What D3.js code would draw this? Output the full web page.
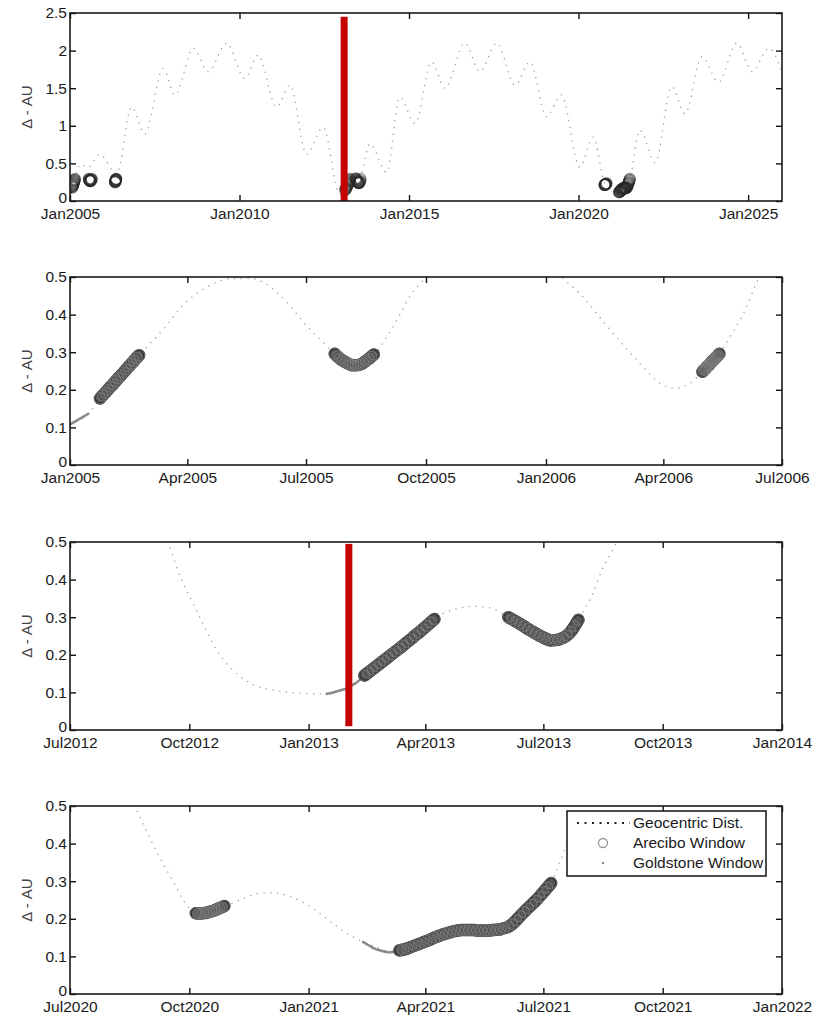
<!DOCTYPE html>
<html>
<head>
<meta charset="utf-8">
<script src="https://cdn.jsdelivr.net/npm/d3@7"></script>
<style>
	body { margin: 0; background: #fff; }
	svg text { font-family: "Liberation Sans", Arial, sans-serif; }
</style>
</head>
<body>
<svg id="chart" width="825" height="1017"></svg>
<script>
// ---- data ----
// geocentric distance, coarse (top panel)
const geoLongTerm = [
	["2005-01-01", 0.11], ["2005-02-24", 0.30], ["2005-04-20", 0.49], ["2005-07-16", 0.45],
	["2005-11-18", 0.62], ["2006-05-18", 0.36], ["2006-10-27", 1.25], ["2007-03-18", 0.89],
	["2007-10-01", 1.76], ["2008-02-06", 1.41], ["2008-08-22", 2.03], ["2009-01-30", 1.72],
	["2009-08-15", 2.10], ["2010-02-28", 1.63], ["2010-07-20", 1.94], ["2011-02-05", 1.25],
	["2011-06-28", 1.54], ["2011-12-25", 0.62], ["2012-06-20", 0.98], ["2012-12-16", 0.09],
	["2013-03-15", 0.22], ["2013-07-07", 0.26], ["2013-11-07", 0.76], ["2014-05-05", 0.38],
	["2014-09-24", 1.38], ["2015-03-08", 1.03], ["2015-09-02", 1.85], ["2016-01-23", 1.50],
	["2016-08-25", 2.10], ["2017-02-03", 1.72], ["2017-08-03", 2.10], ["2018-02-17", 1.54],
	["2018-07-27", 1.85], ["2019-01-23", 1.12], ["2019-07-01", 1.41], ["2020-01-15", 0.45],
	["2020-06-07", 0.85], ["2020-10-15", 0.22], ["2021-03-15", 0.11], ["2021-07-07", 0.30],
	["2021-10-23", 0.94], ["2022-04-05", 0.51], ["2022-10-01", 1.52], ["2023-02-21", 1.16],
	["2023-08-22", 1.92], ["2024-02-17", 1.58], ["2024-09-01", 2.10], ["2025-02-14", 1.72],
	["2025-08-11", 2.03], ["2025-12-31", 1.72]
];

// geocentric distance, detail
const geo2005 = [
	["2005-01-01", 0.108], ["2005-01-15", 0.136], ["2005-01-24", 0.177], ["2005-02-08", 0.238],
	["2005-02-24", 0.296], ["2005-03-15", 0.367], ["2005-03-30", 0.430], ["2005-04-14", 0.469],
	["2005-05-05", 0.496], ["2005-05-20", 0.496], ["2005-05-31", 0.482], ["2005-06-15", 0.438],
	["2005-06-30", 0.376], ["2005-07-15", 0.323], ["2005-07-23", 0.296], ["2005-08-07", 0.265],
	["2005-08-23", 0.296], ["2005-09-04", 0.358], ["2005-09-11", 0.400], ["2005-09-19", 0.450],
	["2005-09-30", 0.496], ["2005-10-20", 0.580], ["2005-11-25", 0.620], ["2005-12-28", 0.560],
	["2006-01-14", 0.496], ["2006-01-27", 0.456], ["2006-02-11", 0.394], ["2006-02-26", 0.332],
	["2006-03-14", 0.270], ["2006-04-01", 0.212], ["2006-04-11", 0.204], ["2006-04-21", 0.217],
	["2006-05-01", 0.248], ["2006-05-14", 0.296], ["2006-05-22", 0.340], ["2006-06-01", 0.400],
	["2006-06-13", 0.496], ["2006-07-01", 0.620]
];
const geo2013 = [
	["2012-08-20", 0.660], ["2012-09-01", 0.580], ["2012-09-15", 0.496], ["2012-09-23", 0.416],
	["2012-10-04", 0.336], ["2012-10-14", 0.265], ["2012-10-24", 0.202], ["2012-11-04", 0.158],
	["2012-11-19", 0.121], ["2012-12-07", 0.105], ["2012-12-25", 0.098], ["2013-01-15", 0.096],
	["2013-02-01", 0.114], ["2013-02-13", 0.145], ["2013-03-13", 0.218], ["2013-04-09", 0.300],
	["2013-04-25", 0.322], ["2013-05-08", 0.329], ["2013-05-21", 0.325], ["2013-06-04", 0.300],
	["2013-06-21", 0.265], ["2013-07-07", 0.238], ["2013-07-19", 0.251], ["2013-07-29", 0.300],
	["2013-08-08", 0.362], ["2013-08-15", 0.424], ["2013-08-26", 0.496], ["2013-09-10", 0.620]
];
const geo2021 = [
	["2020-08-05", 0.620], ["2020-08-20", 0.500], ["2020-08-29", 0.434], ["2020-09-08", 0.364],
	["2020-09-18", 0.303], ["2020-09-28", 0.241], ["2020-10-06", 0.215], ["2020-10-17", 0.218],
	["2020-10-29", 0.234], ["2020-11-09", 0.250], ["2020-11-24", 0.268], ["2020-12-05", 0.269],
	["2020-12-18", 0.259], ["2020-12-31", 0.237], ["2021-01-13", 0.206], ["2021-01-26", 0.171],
	["2021-02-08", 0.145], ["2021-02-20", 0.128], ["2021-03-05", 0.113], ["2021-03-12", 0.116],
	["2021-04-14", 0.158], ["2021-04-27", 0.169], ["2021-05-22", 0.169], ["2021-06-05", 0.180],
	["2021-06-18", 0.224], ["2021-06-28", 0.259], ["2021-07-07", 0.295], ["2021-07-13", 0.346],
	["2021-07-17", 0.380], ["2021-07-25", 0.460], ["2021-07-31", 0.530]
];

// Arecibo windows: [first day, days between samples, distances]
const arecibo2005a = ["2005-01-24", 2, [0.177, 0.185, 0.192, 0.200, 0.208, 0.215, 0.223, 0.231,
	0.238, 0.246, 0.254, 0.262, 0.269, 0.277, 0.285, 0.292]];
const arecibo2005b = ["2005-07-23", 2, [0.296, 0.289, 0.283, 0.278, 0.274, 0.270, 0.267, 0.265,
	0.265, 0.266, 0.268, 0.272, 0.277, 0.282, 0.288, 0.294]];
const arecibo2006 = ["2006-05-01", 1, [0.248, 0.252, 0.255, 0.259, 0.263, 0.266, 0.270, 0.274,
	0.278, 0.281, 0.285, 0.288, 0.292, 0.296]];
const arecibo2013a = ["2013-02-13", 3, [0.145, 0.153, 0.161, 0.169, 0.177, 0.185, 0.193, 0.201,
	0.209, 0.217, 0.225, 0.234, 0.242, 0.251, 0.259, 0.268, 0.277, 0.286, 0.295]];
const arecibo2013b = ["2013-06-04", 3, [0.300, 0.294, 0.288, 0.282, 0.276, 0.269, 0.263, 0.257,
	0.251, 0.246, 0.241, 0.238, 0.239, 0.241, 0.245, 0.251, 0.261, 0.276, 0.293]];
const arecibo2020 = ["2020-10-06", 2, [0.215, 0.214, 0.214, 0.215, 0.216, 0.218, 0.220, 0.222,
	0.225, 0.228, 0.231, 0.234]];
const arecibo2021 = ["2021-03-12", 3, [0.116, 0.118, 0.121, 0.125, 0.129, 0.133, 0.137, 0.141,
	0.145, 0.150, 0.154, 0.158, 0.161, 0.164, 0.167, 0.169, 0.170, 0.170, 0.170, 0.170,
	0.169, 0.169, 0.169, 0.169, 0.170, 0.171, 0.172, 0.175, 0.179, 0.186, 0.196, 0.207,
	0.218, 0.228, 0.238, 0.248, 0.259, 0.271, 0.283, 0.295]];

// Goldstone windows
const goldstone2005 = ["2005-01-01", 1, [0.108, 0.110, 0.112, 0.114, 0.116, 0.118, 0.120, 0.122,
	0.124, 0.126, 0.128, 0.130, 0.132, 0.134, 0.136]];
const goldstone2013 = ["2013-01-15", 1, [0.096, 0.097, 0.097, 0.098, 0.099, 0.100, 0.101, 0.102,
	0.103, 0.104, 0.105, 0.106, 0.107, 0.108, 0.109, 0.110, 0.112, 0.114, 0.116, 0.118,
	0.120, 0.122, 0.124, 0.126, 0.129, 0.132, 0.135, 0.138, 0.141]];
const goldstone2021 = ["2021-02-12", 1, [0.138, 0.136, 0.134, 0.132, 0.130, 0.128, 0.126, 0.124,
	0.122, 0.121, 0.119, 0.118, 0.117, 0.116, 0.115, 0.114, 0.113, 0.112, 0.112, 0.111,
	0.111, 0.111, 0.111, 0.112, 0.112, 0.113, 0.113, 0.114, 0.114]];

// red marker (date, from, to)
const markerDate = "2013-02-01";
const markerTop = [0, 2.45];
const markerZoom = [0.01, 0.495];

// ticks
const yearTicks = ["2005-01-01", "2010-01-01", "2015-01-01", "2020-01-01", "2025-01-01"];
const ticks2005 = ["2005-01-01", "2005-04-01", "2005-07-01", "2005-10-01", "2006-01-01", "2006-04-01", "2006-07-01"];
const ticks2013 = ["2012-07-01", "2012-10-01", "2013-01-01", "2013-04-01", "2013-07-01", "2013-10-01", "2014-01-01"];
const ticks2021 = ["2020-07-01", "2020-10-01", "2021-01-01", "2021-04-01", "2021-07-01", "2021-10-01", "2022-01-01"];
const yTicksTop = [0, 0.5, 1, 1.5, 2, 2.5];
const yTicksZoom = [0, 0.1, 0.2, 0.3, 0.4, 0.5];
const legendLabels = ["Geocentric Dist.", "Arecibo Window", "Goldstone Window"];

// ---- drawing ----
const parse = d3.utcParse("%Y-%m-%d");
const fmt = d3.utcFormat("%b%Y");
const svg = d3.select("#chart");

const left = 70, right = 782, panelH = 188;
const allArecibo = [arecibo2005a, arecibo2005b, arecibo2006, arecibo2013a, arecibo2013b, arecibo2020, arecibo2021];
const allGoldstone = [goldstone2005, goldstone2013, goldstone2021];

function expand(win) {
	const start = parse(win[0]);
	return win[2].map((v, i) => ({ date: d3.utcDay.offset(start, i * win[1]), v: v }));
}
const areciboWindows = allArecibo.map(expand);
const areciboPts = areciboWindows.flat();
const goldstonePts = allGoldstone.flatMap(expand);

const panels = [
	{ top: 13, domain: ["2005-01-01", "2026-01-01"], yMax: 2.5, yTicks: yTicksTop, xTicks: yearTicks, geo: geoLongTerm, bar: markerTop },
	{ top: 277, domain: ["2005-01-01", "2006-07-01"], yMax: 0.5, yTicks: yTicksZoom, xTicks: ticks2005, geo: geo2005, tube: true },
	{ top: 542, domain: ["2012-07-01", "2014-01-01"], yMax: 0.5, yTicks: yTicksZoom, xTicks: ticks2013, geo: geo2013, bar: markerZoom, tube: true },
	{ top: 806, domain: ["2020-07-01", "2022-01-01"], yMax: 0.5, yTicks: yTicksZoom, xTicks: ticks2021, geo: geo2021, legend: true, tube: true }
];

panels.forEach((p, idx) => {
	const bottom = p.top + panelH;
	const x = d3.scaleUtc().domain(p.domain.map(parse)).range([left, right]);
	const y = d3.scaleLinear().domain([0, p.yMax]).range([bottom, p.top]);

	const clipId = "clip" + idx;
	svg.append("clipPath").attr("id", clipId)
		.append("rect")
		.attr("x", left).attr("y", p.top)
		.attr("width", right - left).attr("height", panelH);

	const plot = svg.append("g").attr("clip-path", `url(#${clipId})`);

	// geocentric distance - dotted
	const line = d3.line()
		.x(d => x(parse(d[0])))
		.y(d => y(d[1]))
		.curve(d3.curveMonotoneX);
	plot.append("path")
		.datum(p.geo)
		.attr("d", line)
		.attr("fill", "none")
		.attr("stroke", "#a0a0a0")
		.attr("stroke-width", 1.3)
		.attr("stroke-dasharray", "1.3 5.5");

	// goldstone - small dots
	plot.selectAll(null)
		.data(goldstonePts)
		.enter()
		.append("circle")
		.attr("cx", d => x(d.date))
		.attr("cy", d => y(d.v))
		.attr("r", 1.3)
		.attr("fill", "#8a8a8a");

	// arecibo - in the zoomed panels the circles pile up into a tube
	if (p.tube) {
		const winLine = d3.line()
			.x(d => x(d.date))
			.y(d => y(d.v))
			.curve(d3.curveMonotoneX);
		plot.selectAll(null)
			.data(areciboWindows)
			.enter()
			.append("path")
			.attr("d", winLine)
			.attr("fill", "none")
			.attr("stroke", "#262626")
			.attr("stroke-width", 12.5)
			.attr("stroke-linecap", "round");
		plot.selectAll(null)
			.data(areciboWindows)
			.enter()
			.append("path")
			.attr("d", winLine)
			.attr("fill", "none")
			.attr("stroke", "#555")
			.attr("stroke-width", 8)
			.attr("stroke-linecap", "round");
	}
	plot.selectAll(null)
		.data(areciboPts)
		.enter()
		.append("circle")
		.attr("cx", d => x(d.date))
		.attr("cy", d => y(d.v))
		.attr("r", 5.5)
		.attr("fill", "none")
		.attr("stroke", p.tube ? "#888" : "#2a2a2a")
		.attr("stroke-opacity", p.tube ? 0.6 : 0.5)
		.attr("stroke-width", 1.2);

	// red marker
	if (p.bar) {
		const xm = x(parse(markerDate));
		svg.append("rect")
			.attr("x", xm - 3.5)
			.attr("width", 7)
			.attr("y", y(p.bar[1]))
			.attr("height", y(p.bar[0]) - y(p.bar[1]))
			.attr("fill", "#c40000");
	}

	// axes, MATLAB style: ticks inside on all four sides
	const xt = p.xTicks.map(parse);
	const axB = svg.append("g")
		.attr("transform", `translate(0,${bottom})`)
		.call(d3.axisBottom(x).tickValues(xt).tickFormat(fmt).tickSizeInner(-6).tickSizeOuter(0).tickPadding(7));
	svg.append("g")
		.attr("transform", `translate(0,${p.top})`)
		.call(d3.axisTop(x).tickValues(xt).tickFormat("").tickSizeInner(-6).tickSizeOuter(0));
	const axL = svg.append("g")
		.attr("transform", `translate(${left},0)`)
		.call(d3.axisLeft(y).tickValues(p.yTicks).tickFormat(d3.format("~g")).tickSizeInner(-6).tickSizeOuter(0).tickPadding(3));
	svg.append("g")
		.attr("transform", `translate(${right},0)`)
		.call(d3.axisRight(y).tickValues(p.yTicks).tickFormat("").tickSizeInner(-6).tickSizeOuter(0));

	svg.selectAll(".domain").remove();
	svg.selectAll(".tick line").attr("stroke", "#111").attr("stroke-width", 1.4);
	[axB, axL].forEach(a => a.selectAll("text")
		.attr("fill", "#1a1a1a")
		.style("font-size", "15.5px"));
	// lift the "0" a little so it sits above the first date label
	axL.selectAll(".tick").filter(d => d === 0).select("text").attr("dy", "0.1em");

	// box
	svg.append("rect")
		.attr("x", left).attr("y", p.top)
		.attr("width", right - left).attr("height", panelH)
		.attr("fill", "none")
		.attr("stroke", "#1a1a1a")
		.attr("stroke-width", 1.6);

	// y label
	svg.append("text")
		.attr("transform", `translate(32,${(p.top + bottom) / 2}) rotate(-90)`)
		.attr("text-anchor", "middle")
		.attr("fill", "#444")
		.style("font-size", "15px")
		.text("\u0394 - AU");

	if (p.legend) {
		const lg = svg.append("g").attr("transform", "translate(567,811)");
		lg.append("rect")
			.attr("width", 199).attr("height", 65)
			.attr("fill", "#fff")
			.attr("stroke", "#111")
			.attr("stroke-width", 1.5);
		lg.append("line")
			.attr("x1", 10).attr("x2", 63)
			.attr("y1", 12).attr("y2", 12)
			.attr("stroke", "#222")
			.attr("stroke-width", 2)
			.attr("stroke-dasharray", "2 5.5");
		lg.append("circle")
			.attr("cx", 36).attr("cy", 32).attr("r", 4.5)
			.attr("fill", "none")
			.attr("stroke", "#999")
			.attr("stroke-width", 1.3);
		lg.append("circle")
			.attr("cx", 36).attr("cy", 52).attr("r", 1.2)
			.attr("fill", "#888");
		lg.selectAll(null)
			.data(legendLabels)
			.enter()
			.append("text")
			.attr("x", 66)
			.attr("y", (d, i) => 12 + i * 20)
			.attr("dy", "0.35em")
			.attr("fill", "#1a1a1a")
			.style("font-size", "15.5px")
			.text(d => d);
	}
});
</script>
</body>
</html>
